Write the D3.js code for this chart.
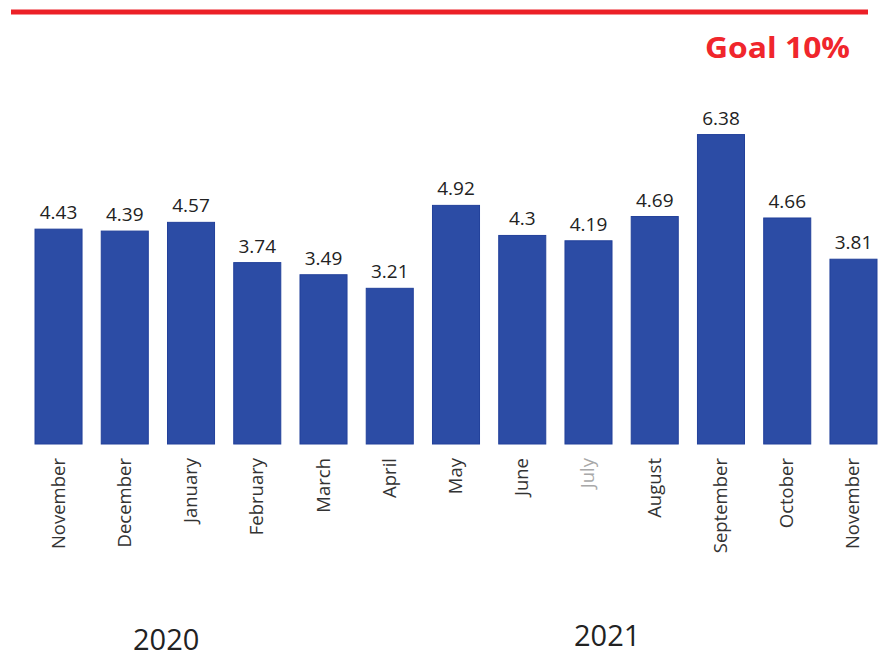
<!DOCTYPE html>
<html>
<head>
<meta charset="utf-8">
<script src="https://cdn.jsdelivr.net/npm/d3@7"></script>
<style>
  body { margin: 0; background: #fff; }
  svg { display: block; }
</style>
</head>
<body>
<svg class="chart"></svg>
<script>
(function () {
  var months = ["November", "December", "January", "February", "March", "April",
    "May", "June", "July", "August", "September", "October", "November"];
  var values = [4.43, 4.39, 4.57, 3.74, 3.49, 3.21, 4.92, 4.3, 4.19, 4.69, 6.38, 4.66, 3.81];
  var years = ["2020", "2021"];
  var goalLabel = "Goal 10%";

  var width = 885;
  var height = 658;
  var baseY = 444;

  var svg = d3.select(".chart")
      .attr("width", width)
      .attr("height", height);

  // one band per bar, keyed by index since "November" shows up twice
  var xscale = d3.scaleBand()
    .domain(d3.range(months.length))
    .range([25.4, 886.6])
    .paddingInner(0.29)
    .paddingOuter(0.145);

  var yscale = d3.scaleLinear()
    .domain([0, 1])
    .range([baseY, baseY - 48.5]);

  // goal line
  svg.append("line")
    .attr("x1", 11)
    .attr("x2", 868)
    .attr("y1", 12)
    .attr("y2", 12)
    .style("stroke", "#ec2027")
    .style("stroke-width", 5);

  svg.append("text")
    .attr("x", 850)
    .attr("y", 58)
    .attr("text-anchor", "end")
    .attr("textLength", 145)
    .attr("lengthAdjust", "spacingAndGlyphs")
    .style("font-family", "'Open Sans', sans-serif")
    .style("font-weight", "bold")
    .style("font-size", "29px")
    .style("fill", "#f0262c")
    .text(goalLabel);

  var bars = svg.append("g");

  bars.selectAll("rect")
    .data(values)
    .enter().append("rect")
      .attr("x", function(d, i) { return xscale(i); })
      .attr("y", function(d) { return yscale(d); })
      .attr("width", xscale.bandwidth())
      .attr("height", function(d) { return baseY - yscale(d); })
      .style("fill", "#2c4ca5")
      .style("stroke", "#22409a")
      .style("stroke-width", 1);

  bars.selectAll("text.value")
    .data(values)
    .enter().append("text")
      .attr("class", "value")
      .attr("x", function(d, i) { return xscale(i) + xscale.bandwidth() / 2; })
      .attr("y", function(d) { return yscale(d) - 10; })
      .attr("text-anchor", "middle")
      .style("font-family", "'Open Sans', sans-serif")
      .style("font-size", "19px")
      .style("fill", "#222")
      .text(function(d) { return d; });

  // rotated month labels, reading bottom to top
  svg.append("g").selectAll("text")
    .data(months)
    .enter().append("text")
      .attr("transform", function(d, i) {
        return "translate(" + (xscale(i) + xscale.bandwidth() / 2 + 6) + ",458) rotate(-90)";
      })
      .attr("text-anchor", "end")
      .style("font-family", "'Open Sans', sans-serif")
      .style("font-size", "18.5px")
      .style("fill", function(d, i) { return i === 8 ? "#a8a8a8" : "#333"; })
      .text(function(d) { return d; });

  svg.append("text")
    .attr("x", 133)
    .attr("y", 650)
    .style("font-family", "'Open Sans', sans-serif")
    .style("font-size", "29px")
    .style("fill", "#222")
    .text(years[0]);

  svg.append("text")
    .attr("x", 574)
    .attr("y", 646)
    .style("font-family", "'Open Sans', sans-serif")
    .style("font-size", "29px")
    .style("fill", "#222")
    .text(years[1]);
})();
</script>
</body>
</html>
